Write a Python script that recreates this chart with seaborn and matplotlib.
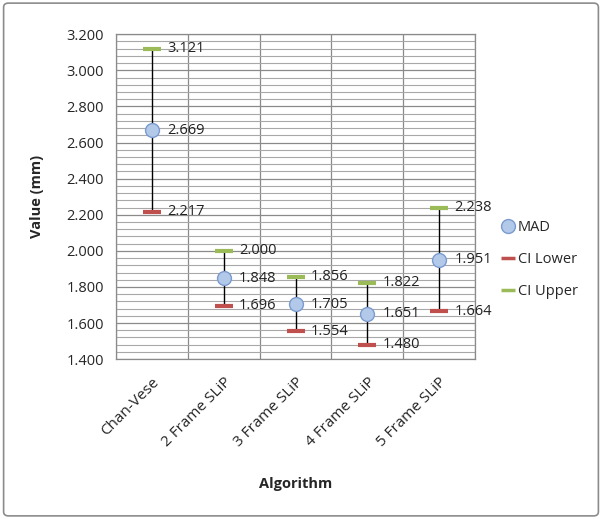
import matplotlib
matplotlib.use("Agg")
import matplotlib.pyplot as plt
from matplotlib.patches import FancyBboxPatch
from matplotlib.lines import Line2D
import numpy as np
import pandas as pd
import seaborn as sns

# data
algorithms = ["Chan-Vese", "2 Frame SLiP", "3 Frame SLiP", "4 Frame SLiP", "5 Frame SLiP"]
mad = [2.669, 1.848, 1.705, 1.651, 1.951]
ci_lower = [2.217, 1.696, 1.554, 1.480, 1.664]
ci_upper = [3.121, 2.000, 1.856, 1.822, 2.238]

df = pd.DataFrame({"Algorithm": algorithms, "MAD": mad, "CI Lower": ci_lower, "CI Upper": ci_upper})
df["x"] = np.arange(len(df))

sns.set_style("white")
plt.rcParams["font.family"] = ["Open Sans", "DejaVu Sans"]
fs = 10.5

fig = plt.figure(figsize=(6.02, 5.19), dpi=100)
ax = fig.add_axes([0.193, 0.308, 0.596, 0.626])

# outer frame
fig.patches.append(FancyBboxPatch((0.006, 0.006), 0.988, 0.988, boxstyle="round,pad=0,rounding_size=0.008",
                                  transform=fig.transFigure, fill=False, edgecolor="#8c8c8c", lw=1.2))

# error lines
ax.vlines(df["x"], df["CI Lower"], df["CI Upper"], color="black", lw=1.0, zorder=2)

sns.scatterplot(data=df, x="x", y="CI Upper", ax=ax, marker="_", s=160, linewidth=3,
                color="#9bbb59", zorder=3, legend=False)
sns.scatterplot(data=df, x="x", y="CI Lower", ax=ax, marker="_", s=160, linewidth=3,
                color="#c0504d", zorder=3, legend=False)
sns.scatterplot(data=df, x="x", y="MAD", ax=ax, marker="o", s=100, color="#b3c9ea",
                edgecolor="#7b9bd0", linewidth=1.0, zorder=4, legend=False)

# data labels
for col in ["CI Upper", "MAD", "CI Lower"]:
    for xi, v in zip(df["x"], df[col]):
        ax.annotate(f"{v:.3f}", (xi, v), xytext=(11, 0), textcoords="offset points",
                    va="center", ha="left", fontsize=fs, color="#222222", zorder=5)

ax.set_xlim(-0.5, 4.5)
ax.set_ylim(1.4, 3.2)
ax.set_yticks(np.arange(1.4, 3.201, 0.2))
ax.set_yticks(np.arange(1.4, 3.201, 0.04), minor=True)
ax.set_yticklabels([f"{t:.3f}" for t in np.arange(1.4, 3.201, 0.2)], fontsize=fs)
ax.set_xticks(np.arange(-0.5, 4.6, 1), minor=True)
ax.set_xticks(df["x"])
ax.set_xticklabels(algorithms, rotation=45, ha="right", rotation_mode="anchor", fontsize=11)
ax.tick_params(axis="x", which="major", length=0, pad=11)
ax.tick_params(axis="y", which="major", length=5, color="#868686", pad=4)
ax.tick_params(axis="y", which="minor", length=0)

ax.grid(which="minor", axis="y", color="#a8a8a8", lw=0.8)
ax.grid(which="major", axis="y", color="#8a8a8a", lw=0.9)
ax.grid(which="minor", axis="x", color="#8a8a8a", lw=0.9)
ax.grid(which="major", axis="x", visible=False)
ax.set_axisbelow(True)
for s in ax.spines.values():
    s.set_color("#8a8a8a")
    s.set_linewidth(0.9)

ax.set_xlabel("Algorithm", fontsize=fs, fontweight="bold", labelpad=20)
ax.set_ylabel("Value (mm)", fontsize=fs, fontweight="bold", labelpad=16)

handles = [
    Line2D([], [], marker="o", linestyle="none", markersize=10, markerfacecolor="#b3c9ea",
           markeredgecolor="#7b9bd0", label="MAD"),
    Line2D([], [], marker="_", linestyle="none", markersize=10, markeredgewidth=2.5,
           color="#c0504d", label="CI Lower"),
    Line2D([], [], marker="_", linestyle="none", markersize=10, markeredgewidth=2.5,
           color="#9bbb59", label="CI Upper"),
]
fig.legend(handles=handles, loc="center left", bbox_to_anchor=(0.812, 0.50), frameon=False,
           fontsize=fs, handlelength=0.8, handletextpad=0.3, labelspacing=1.15)

fig.savefig("out.png", dpi=100)
